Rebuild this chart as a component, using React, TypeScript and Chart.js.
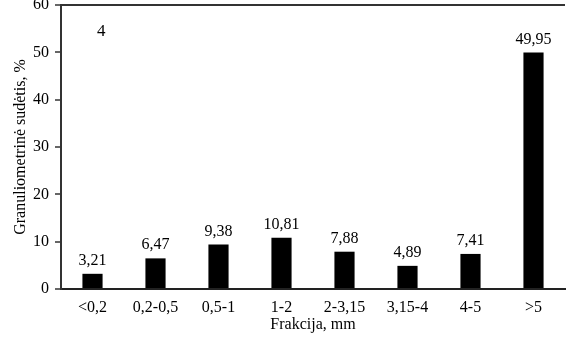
import React, { useEffect, useRef } from "react";
import { Chart, registerables } from "chart.js";

Chart.register(...registerables);

const categories = ["<0,2", "0,2-0,5", "0,5-1", "1-2", "2-3,15", "3,15-4", "4-5", ">5"];
const values = [3.21, 6.47, 9.38, 10.81, 7.88, 4.89, 7.41, 49.95];
const yTicks = [0, 10, 20, 30, 40, 50, 60];
const panelLabel = "4";
const xTitle = "Frakcija, mm";
const yTitle = "Granuliometrinė sudėtis, %";

const FONT = "'Liberation Serif', 'Times New Roman', serif";

const labelPlugin = {
  id: "valueLabels",
  afterDatasetsDraw(chart: any) {
    const ctx = chart.ctx;
    const meta = chart.getDatasetMeta(0);
    ctx.save();
    ctx.font = `16px ${FONT}`;
    ctx.fillStyle = "#000";
    ctx.textAlign = "center";
    ctx.textBaseline = "alphabetic";
    meta.data.forEach((bar: any, i: number) => {
      const txt = values[i].toFixed(2).replace(".", ",");
      ctx.fillText(txt, bar.x, bar.y - 9);
    });
    ctx.font = `17px ${FONT}`;
    ctx.textAlign = "left";
    ctx.textBaseline = "alphabetic";
    ctx.fillText(panelLabel, chart.chartArea.left + 36, chart.chartArea.top + 31);
    ctx.restore();
  },
};

export default function App() {
  const ref = useRef<HTMLCanvasElement>(null);
  useEffect(() => {
    document.body.style.margin = "0";
    const chart = new Chart(ref.current!, {
      type: "bar",
      data: {
        labels: categories,
        datasets: [
          {
            data: values,
            backgroundColor: "#000",
            borderWidth: 0,
            categoryPercentage: 1,
            barPercentage: 0.32,
          },
        ],
      },
      options: {
        animation: false,
        responsive: false,
        maintainAspectRatio: false,
        layout: { padding: { left: 0, right: 2, top: 5, bottom: 0 } },
        plugins: { legend: { display: false }, tooltip: { enabled: false } },
        scales: {
          x: {
            grid: { display: false, drawTicks: false },
            border: { color: "#222", width: 2 },
            ticks: {
              color: "#000",
              font: { family: FONT, size: 16 },
              padding: 9,
              maxRotation: 0,
              autoSkip: false,
            },
            title: {
              display: true,
              text: xTitle,
              color: "#000",
              font: { family: FONT, size: 16 },
              padding: { top: 0, bottom: 8 },
            },
            afterFit: (s: any) => {
              s.height = 53;
              s.paddingLeft = 0;
              s.paddingRight = 0;
            },
          },
          y: {
            min: 0,
            max: 60,
            afterBuildTicks: (s: any) => {
              s.ticks = yTicks.map((v) => ({ value: v }));
            },
            grid: {
              color: (c: any) => (c.tick && c.tick.value === 60 ? "#333" : "transparent"),
              lineWidth: 2,
              tickColor: "#333",
              tickLength: 6,
              tickWidth: 1.5,
              drawTicks: true,
            },
            border: { color: "#333", width: 2 },
            ticks: {
              color: "#000",
              font: { family: FONT, size: 16 },
              padding: 6,
            },
            title: {
              display: true,
              text: yTitle,
              color: "#000",
              font: { family: FONT, size: 16 },
              padding: { top: 11, bottom: 0 },
            },
            afterFit: (s: any) => {
              s.width = 61;
              s.paddingTop = 0;
              s.paddingBottom = 0;
            },
          },
        },
      },
      plugins: [labelPlugin],
    });
    return () => chart.destroy();
  }, []);
  return (
    <div style={{ position: "absolute", left: 0, top: 0, width: 567, height: 342 }}>
      <canvas ref={ref} width={567} height={342} style={{ width: 567, height: 342 }} />
    </div>
  );
}
